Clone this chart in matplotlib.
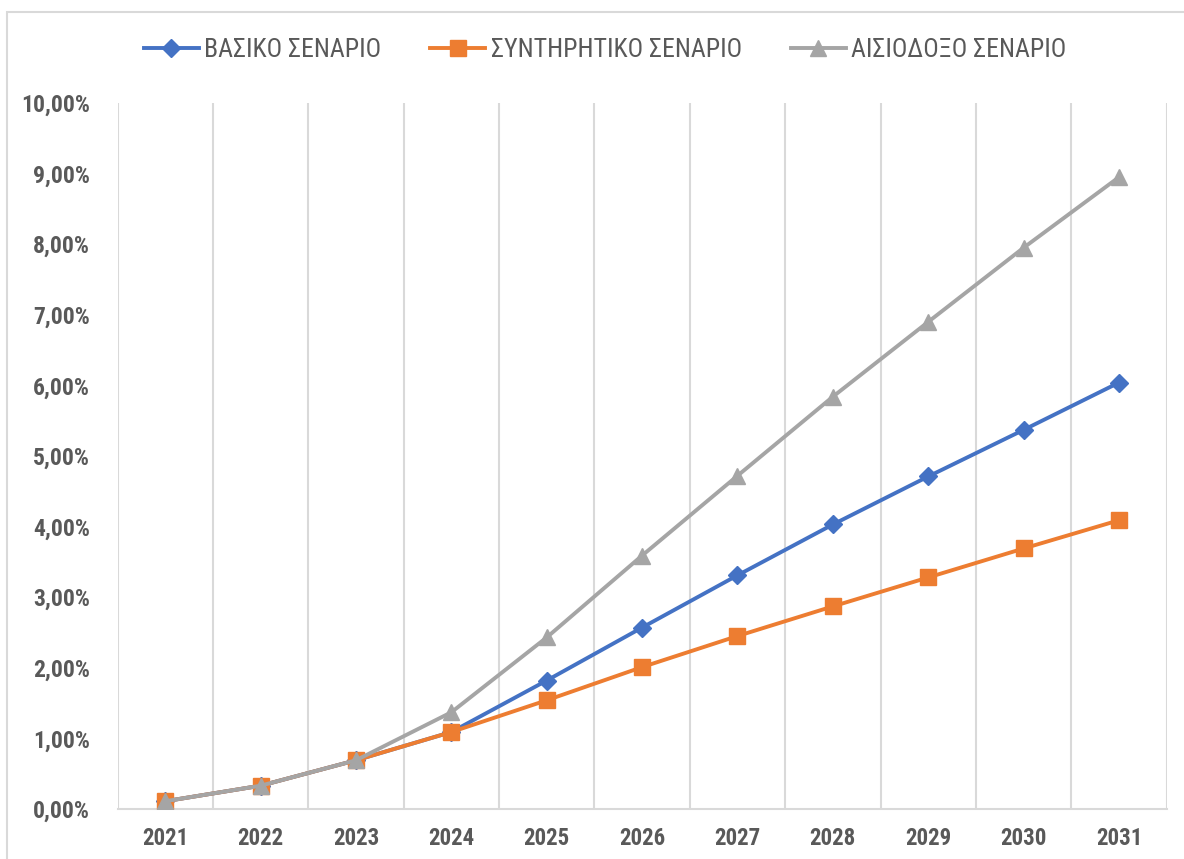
import matplotlib
matplotlib.use("Agg")
import matplotlib.pyplot as plt
from matplotlib import font_manager
from matplotlib.patches import Rectangle
from matplotlib.ticker import FuncFormatter, MultipleLocator

years = ["2021", "2022", "2023", "2024", "2025", "2026", "2027", "2028", "2029", "2030", "2031"]
basic = [0.11, 0.33, 0.69, 1.09, 1.82, 2.57, 3.31, 4.03, 4.71, 5.37, 6.04]
conservative = [0.11, 0.33, 0.69, 1.09, 1.54, 2.01, 2.45, 2.87, 3.28, 3.69, 4.09]
optimistic = [0.11, 0.33, 0.69, 1.37, 2.43, 3.59, 4.72, 5.84, 6.90, 7.95, 8.95]
series_names = ["ΒΑΣΙΚΟ ΣΕΝΑΡΙΟ", "ΣΥΝΤΗΡΗΤΙΚΟ ΣΕΝΑΡΙΟ", "ΑΙΣΙΟΔΟΞΟ ΣΕΝΑΡΙΟ"]

def pick_font(cands):
    for c in cands:
        try:
            font_manager.findfont(c, fallback_to_default=False)
            return c
        except Exception:
            pass
    return "DejaVu Sans"

fam = pick_font(["Liberation Sans Narrow", "Roboto Condensed", "DejaVu Sans"])
plt.rcParams['font.family'] = [fam, 'DejaVu Sans']

txt = "#595959"
grid = "#D9D9D9"

fig = plt.figure(figsize=(11.84, 8.59), dpi=100)
fig.patches.append(Rectangle((7/1184, -0.1), 1.2, (859 - 12)/859 + 0.1,
                             transform=fig.transFigure, fill=False,
                             edgecolor=grid, linewidth=1.5))
ax = fig.add_axes([117.5/1184, 50/859, (1166.7-117.5)/1184, (809-103)/859])

x = list(range(len(years)))
ax.plot(x, basic, color="#4472C4", lw=2.8, marker="D", ms=9, label=series_names[0], zorder=3)
ax.plot(x, conservative, color="#ED7D31", lw=2.8, marker="s", ms=11, label=series_names[1], zorder=4)
ax.plot(x, optimistic, color="#A5A5A5", lw=2.8, marker="^", ms=11, label=series_names[2], zorder=5)

ax.set_xlim(-0.5, len(years) - 0.5)
ax.set_ylim(0, 10)
ax.set_xticks(x)
ax.set_xticklabels(years)
for b in [i - 0.5 for i in range(len(years) + 1)]:
    ax.axvline(b, color=grid, lw=1.5, zorder=1)
ax.yaxis.set_major_locator(MultipleLocator(1))
ax.yaxis.set_major_formatter(FuncFormatter(lambda v, p: f"{v:.2f}".replace(".", ",") + "%"))

for s in ["top", "right", "left"]:
    ax.spines[s].set_visible(False)
ax.spines["bottom"].set_color(grid)
ax.spines["bottom"].set_linewidth(1.5)
ax.tick_params(axis="both", length=0, colors=txt)
ax.tick_params(axis="y", labelsize=17, pad=20)
ax.tick_params(axis="x", labelsize=16.5, pad=13)
for lbl in ax.get_yticklabels():
    lbl.set_fontweight("bold")
for lbl in ax.get_xticklabels():
    lbl.set_fontweight("bold")

leg = fig.legend(loc="center", bbox_to_anchor=(605/1184, 1 - 50/859), ncol=3,
                 frameon=False, fontsize=18.5, handlelength=2.15, columnspacing=1.9,
                 handletextpad=0.2, labelcolor=txt)

fig.savefig("out.png", dpi=100)
